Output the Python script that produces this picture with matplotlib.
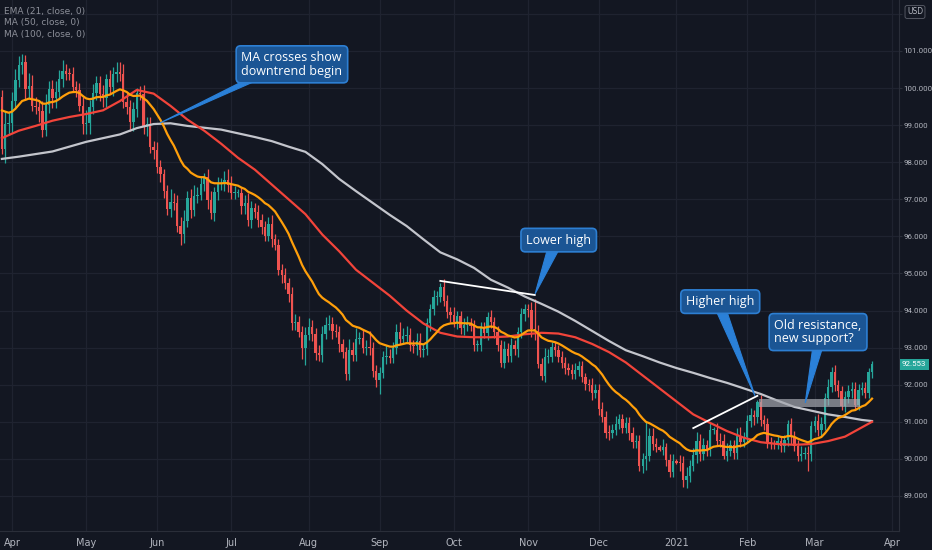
import numpy as np
import pandas as pd
import matplotlib
matplotlib.use("Agg")
import matplotlib.pyplot as plt
from matplotlib.patches import Polygon, Rectangle
from matplotlib.transforms import blended_transform_factory

# US dollar index, daily bars 27 Mar 2020 - 24 Mar 2021 (one line per month)
first_open = 99.75
closes = [
    98.37, 99.03, 99.05,
    99.64, 100.22, 100.62, 100.69, 99.98, 100.06, 99.52, 99.49, 99.39, 98.87, 99.53,
    99.98, 99.72, 99.90, 100.24, 100.46, 100.38, 100.37, 100.04, 99.95, 99.52, 99.02,
    99.07, 99.49, 99.87, 100.13, 99.84, 99.74, 100.24, 100.03, 100.37, 100.44, 100.39,
    99.62, 99.49, 99.09, 99.43, 99.86, 99.84, 98.96, 99.02, 98.41, 98.34,
    97.87, 97.67, 97.23, 96.73, 96.93, 96.91, 96.28, 96.07, 96.41, 97.03, 96.70,
    97.09, 97.12, 97.42, 97.61, 96.98, 96.62, 97.19, 97.41, 97.43, 97.51, 97.39,
    97.16, 97.17, 97.18, 96.81, 96.91, 96.43, 96.76, 96.65, 96.45, 96.26, 96.02, 96.33,
    95.92, 95.77, 95.10, 94.95, 94.73, 94.44, 93.67, 93.70, 93.43, 93.00, 93.35,
    93.55, 93.37, 92.86, 92.80, 93.38, 93.62, 93.63, 93.44, 93.43, 93.09, 92.87,
    92.28, 92.94, 92.79, 93.24, 93.27, 93.00, 93.00, 92.99, 92.37, 92.14,
    92.32, 92.76, 92.77, 92.73, 92.99, 93.43, 93.24, 93.32, 93.33, 93.06, 93.05,
    93.19, 92.94, 92.95, 93.66, 94.04, 94.36, 94.37, 94.64, 94.27, 93.95, 93.89,
    93.70, 93.85, 93.53, 93.61, 93.65, 93.59, 93.06, 93.06, 93.53, 93.40, 93.82,
    93.68, 93.42, 93.06, 92.59, 92.97, 92.77, 93.06, 92.96, 93.41, 93.92, 94.04,
    94.02, 93.49, 93.45, 92.56, 92.23, 92.74, 92.75, 93.01, 92.93, 92.76, 92.59,
    92.44, 92.40, 92.30, 92.39, 92.50, 92.22, 92.01, 91.99, 91.78, 91.87,
    91.34, 91.14, 90.71, 90.70, 90.79, 90.95, 91.07, 90.84, 90.97, 90.71, 90.45, 90.49,
    89.82, 90.01, 90.09, 90.62, 90.40, 90.33, 90.25, 90.33, 89.97, 89.65, 89.94,
    89.90, 89.88, 89.43, 89.53, 89.82, 90.10, 90.47, 90.13, 90.37, 90.23, 90.77,
    90.77, 90.49, 90.48, 90.09, 90.22, 90.37, 90.16, 90.62, 90.46, 90.58,
    91.02, 91.17, 91.12, 91.53, 91.04, 90.94, 90.43, 90.42, 90.41, 90.48,
    90.34, 90.50, 90.94, 90.59, 90.36, 90.09, 90.14, 90.16, 90.13, 90.88,
    91.01, 90.78, 90.94, 91.64, 91.95, 92.33, 91.98, 91.82, 91.42, 91.67,
    91.84, 91.88, 91.46, 91.87, 91.92, 91.79, 92.34, 92.553,
]
upper_wicks = [
    0.20, 0.35, 0.30,
    0.25, 0.30, 0.25, 0.24, 0.20, 0.35, 0.30, 0.25, 0.20, 0.25, 0.30,
    0.20, 0.25, 0.30, 0.25, 0.30, 0.20, 0.15, 0.20, 0.15, 0.20, 0.25,
    0.35, 0.20, 0.25, 0.20, 0.20, 0.25, 0.15, 0.25, 0.20, 0.25, 0.25,
    0.25, 0.25, 0.20, 0.20, 0.15, 0.20, 0.25, 0.20, 0.20, 0.15,
    0.20, 0.20, 0.15, 0.15, 0.35, 0.25, 0.20, 0.25, 0.30, 0.20, 0.25,
    0.30, 0.20, 0.20, 0.10, 0.20, 0.25, 0.15, 0.20, 0.15, 0.25, 0.30,
    0.25, 0.20, 0.10, 0.15, 0.20, 0.25, 0.20, 0.15, 0.20, 0.15, 0.15, 0.20,
    0.25, 0.15, 0.15, 0.15, 0.20, 0.15, 0.20, 0.20, 0.15, 0.15, 0.20,
    0.25, 0.20, 0.15, 0.20, 0.20, 0.20, 0.25, 0.20, 0.20, 0.15, 0.15,
    0.15, 0.30, 0.20, 0.30, 0.15, 0.20, 0.20, 0.45, 0.15, 0.15,
    0.15, 0.15, 0.30, 0.20, 0.15, 0.20, 0.25, 0.20, 0.25, 0.20, 0.15,
    0.20, 0.20, 0.15, 0.15, 0.15, 0.20, 0.15, 0.10, 0.20, 0.15, 0.15,
    0.20, 0.15, 0.15, 0.20, 0.20, 0.15, 0.15, 0.15, 0.15, 0.15, 0.15,
    0.20, 0.15, 0.15, 0.15, 0.20, 0.15, 0.20, 0.15, 0.15, 0.15, 0.15,
    0.15, 0.20, 0.81, 0.15, 0.15, 0.25, 0.20, 0.15, 0.15, 0.15, 0.15,
    0.15, 0.15, 0.15, 0.20, 0.15, 0.15, 0.10, 0.15, 0.20, 0.15,
    0.15, 0.20, 0.15, 0.20, 0.15, 0.20, 0.15, 0.15, 0.15, 0.15, 0.15, 0.15,
    0.15, 0.15, 0.90, 0.20, 0.20, 0.15, 0.05, 0.20, 0.10, 0.15, 0.20,
    0.05, 0.20, 0.20, 0.25, 0.15, 0.20, 0.25, 0.20, 0.20, 0.15, 0.20,
    0.10, 0.20, 0.20, 0.20, 0.20, 0.15, 0.15, 0.20, 0.25, 0.15,
    0.15, 0.20, 0.15, 0.07, 0.20, 0.15, 0.15, 0.15, 0.10, 0.15,
    0.15, 0.15, 0.10, 0.15, 0.15, 0.15, 0.20, 0.15, 0.20, 0.15,
    0.15, 0.20, 0.20, 0.15, 0.20, 0.15, 0.20, 0.15, 0.15, 0.15,
    0.15, 0.20, 0.20, 0.15, 0.15, 0.15, 0.10, 0.10,
]
lower_wicks = [
    0.15, 0.40, 0.30,
    0.25, 0.20, 0.20, 0.25, 0.30, 0.25, 0.15, 0.20, 0.30, 0.20, 0.15,
    0.20, 0.25, 0.25, 0.20, 0.20, 0.15, 0.15, 0.15, 0.20, 0.15, 0.25,
    0.25, 0.30, 0.20, 0.20, 0.20, 0.25, 0.25, 0.20, 0.25, 0.20, 0.20,
    0.15, 0.20, 0.25, 0.25, 0.20, 0.15, 0.20, 0.25, 0.15, 0.25,
    0.15, 0.20, 0.20, 0.15, 0.20, 0.20, 0.15, 0.30, 0.25, 0.15, 0.20,
    0.15, 0.20, 0.15, 0.20, 0.25, 0.15, 0.20, 0.20, 0.15, 0.20, 0.20,
    0.15, 0.15, 0.10, 0.20, 0.20, 0.15, 0.20, 0.15, 0.20, 0.20, 0.15, 0.15,
    0.20, 0.15, 0.15, 0.20, 0.15, 0.20, 0.20, 0.20, 0.15, 0.30, 0.48,
    0.15, 0.20, 0.20, 0.15, 0.20, 0.15, 0.15, 0.20, 0.15, 0.20, 0.15,
    0.15, 0.15, 0.15, 0.15, 0.15, 0.15, 0.20, 0.20, 0.15, 0.20,
    0.39, 0.15, 0.20, 0.15, 0.15, 0.15, 0.15, 0.15, 0.20, 0.15, 0.20,
    0.25, 0.20, 0.20, 0.15, 0.20, 0.15, 0.20, 0.15, 0.15, 0.15, 0.20,
    0.15, 0.20, 0.15, 0.20, 0.15, 0.15, 0.15, 0.15, 0.15, 0.15, 0.20,
    0.15, 0.15, 0.15, 0.12, 0.15, 0.15, 0.15, 0.15, 0.20, 0.15, 0.20,
    0.20, 0.20, 0.25, 0.10, 0.10, 0.15, 0.15, 0.15, 0.15, 0.15, 0.15,
    0.15, 0.15, 0.15, 0.15, 0.15, 0.15, 0.15, 0.15, 0.20, 0.15,
    0.15, 0.15, 0.15, 0.20, 0.15, 0.15, 0.15, 0.15, 0.15, 0.20, 0.15, 0.15,
    0.15, 0.20, 0.30, 0.15, 0.15, 0.15, 0.05, 0.15, 0.15, 0.15, 0.15,
    0.05, 0.20, 0.20, 0.22, 0.15, 0.15, 0.20, 0.20, 0.15, 0.15, 0.15,
    0.10, 0.15, 0.15, 0.10, 0.15, 0.15, 0.15, 0.15, 0.15, 0.15,
    0.15, 0.15, 0.20, 0.15, 0.15, 0.15, 0.15, 0.15, 0.15, 0.15,
    0.15, 0.15, 0.15, 0.20, 0.15, 0.15, 0.15, 0.15, 0.45, 0.20,
    0.15, 0.15, 0.15, 0.15, 0.20, 0.15, 0.15, 0.15, 0.10, 0.15,
    0.15, 0.20, 0.15, 0.15, 0.15, 0.15, 0.15, 0.15,
]

# moving averages every 5 bars (plus the last bar)
ma_bars = list(range(0, 256, 5)) + [258]
ma50 = [
    98.65, 98.85, 98.98, 99.12, 99.22, 99.30, 99.40, 99.65, 99.95, 99.85,
    99.52, 99.15, 98.85, 98.50, 98.12, 97.80, 97.40, 97.00, 96.60, 96.05,
    95.60, 95.10, 94.75, 94.40, 94.00, 93.65, 93.40, 93.30, 93.28, 93.28,
    93.30, 93.36, 93.40, 93.38, 93.28, 93.10, 92.88, 92.60, 92.25, 91.90,
    91.55, 91.20, 90.97, 90.75, 90.57, 90.45, 90.40, 90.38, 90.40, 90.48,
    90.60, 90.85, 91.00,
]
ma100 = [
    98.09, 98.15, 98.22, 98.29, 98.42, 98.55, 98.65, 98.75, 98.92, 99.03,
    99.05, 98.98, 98.93, 98.88, 98.78, 98.68, 98.57, 98.42, 98.28, 97.95,
    97.55, 97.22, 96.90, 96.58, 96.28, 95.92, 95.57, 95.38, 95.15, 94.83,
    94.62, 94.38, 94.18, 93.97, 93.72, 93.45, 93.18, 92.93, 92.77, 92.60,
    92.45, 92.32, 92.18, 92.05, 91.90, 91.75, 91.57, 91.40, 91.30, 91.20,
    91.13, 91.05, 91.02,
]
ema_seed = 99.5
ema_span = 21

BG = "#131722"
GRID = "#1f2330"
TXT = "#b2b5be"
UP = "#26a69a"
DOWN = "#ef5350"
NARROW = ["Liberation Sans Narrow", "DejaVu Sans Condensed", "Roboto"]

dates = pd.bdate_range("2020-03-27", "2021-04-01")
x = np.arange(len(closes))
c = np.array(closes)
opens = np.r_[first_open, c[:-1]]
highs = np.maximum(opens, c) + np.array(upper_wicks)
lows = np.minimum(opens, c) - np.array(lower_wicks)
colors = np.where(c >= opens, UP, DOWN)

alpha = 2.0 / (ema_span + 1)
ema = []
e = ema_seed
for v in closes:
    e = e + alpha * (v - e)
    ema.append(e)

fig = plt.figure(figsize=(9.32, 5.5), dpi=100, facecolor=BG)
ax = fig.add_axes([0, 19 / 550, 899 / 932, 531 / 550], facecolor=BG)

ax.vlines(x, lows, highs, colors=colors, linewidth=0.9, zorder=2)
ax.bar(x, np.maximum(np.abs(c - opens), 0.025), bottom=np.minimum(opens, c),
       width=0.7, color=colors, linewidth=0, zorder=3)

ax.plot(ma_bars, ma100, color="#c3c5cc", linewidth=1.6, zorder=4)
ax.plot(ma_bars, ma50, color="#f2443a", linewidth=1.6, zorder=4)
ax.plot(x, ema, color="#ff9f0a", linewidth=1.6, zorder=4)

# support zone and trend lines
ax.add_patch(Rectangle((224.5, 91.40), 30, 0.22, facecolor="#a5a8b0",
                       alpha=0.7, edgecolor="none", zorder=5))
ax.plot([130, 158], [94.80, 94.42], color="white", linewidth=1.3, zorder=5)
ax.plot([205, 224], [90.83, 91.70], color="white", linewidth=1.3, zorder=5)


def callout(text, cx, cy, base, tip):
    ax.add_patch(Polygon([base[0], base[1], tip], closed=True, facecolor="#2a80d8",
                         edgecolor="#2a80d8", linewidth=0.8, zorder=6))
    ax.text(cx, cy, text, ha="center", va="center", multialignment="left",
            fontsize=9, family="Open Sans", color="white", linespacing=1.05, zorder=7,
            bbox=dict(boxstyle="round,pad=0.42,rounding_size=0.35", fc="#1b5594",
                      ec="#2d7fd3", lw=1.2))


callout("MA crosses show\ndowntrend begin", 86.0, 100.64,
        [(71.8, 100.2), (75.4, 100.2)], (46.9, 99.06))
callout("Lower high", 165.1, 95.90, [(161.9, 95.7), (165.5, 95.7)], (158.1, 94.45))
callout("Higher high", 213.0, 94.24, [(211.5, 94.05), (214.7, 94.05)], (223.3, 91.70))
callout("Old resistance,\nnew support?", 242.0, 93.42,
        [(240.5, 93.05), (243.5, 93.05)], (238.2, 91.51))

# axes
ax.set_xlim(-0.56, 266.0)
ax.set_ylim(88.055, 102.375)
months = [i for i in range(1, len(dates)) if dates[i].month != dates[i - 1].month]
ax.set_xticks(months)
ax.set_xticklabels(["2021" if dates[i].month == 1 else dates[i].strftime("%b") for i in months])
price_ticks = list(range(89, 103))
# the 102 label sits under the currency badge
ax.set_yticks(price_ticks, labels=[f"{p:.3f}" if p < 102 else "" for p in price_ticks],
              fontsize=5.7, family=NARROW)
ax.yaxis.tick_right()
ax.tick_params(axis="x", length=0, pad=5, labelsize=7, labelcolor=TXT)
ax.tick_params(axis="y", length=2.2, width=0.8, color="#2a2e39", pad=1.2, labelcolor=TXT)
ax.grid(True, color=GRID, linewidth=0.9)
ax.set_axisbelow(True)
for side in ("top", "left"):
    ax.spines[side].set_visible(False)
for side in ("right", "bottom"):
    ax.spines[side].set_color("#2a2e39")

# last price label
ax.annotate(f"{closes[-1]:.3f}", xy=(1, closes[-1]),
            xycoords=blended_transform_factory(ax.transAxes, ax.transData),
            xytext=(2.2, 0), textcoords="offset points", ha="left", va="center",
            fontsize=5.7, family=NARROW, color="white", annotation_clip=False, zorder=8,
            bbox=dict(boxstyle="square,pad=0.3", fc=UP, ec="none"))

fig.text(915 / 932, 1 - 12 / 550, "USD", ha="center", va="center", fontsize=5.5,
         color=TXT, bbox=dict(boxstyle="round,pad=0.25", fc=BG, ec="#5d606b", lw=0.6))

for k, label in enumerate(["EMA (21, close, 0)", "MA (50, close, 0)", "MA (100, close, 0)"]):
    fig.text(4 / 932, 1 - (11.5 + 11.5 * k) / 550, label, ha="left", va="center",
             fontsize=6.5, color="#8c8f99")

fig.savefig("out.png", dpi=100, facecolor=BG)
